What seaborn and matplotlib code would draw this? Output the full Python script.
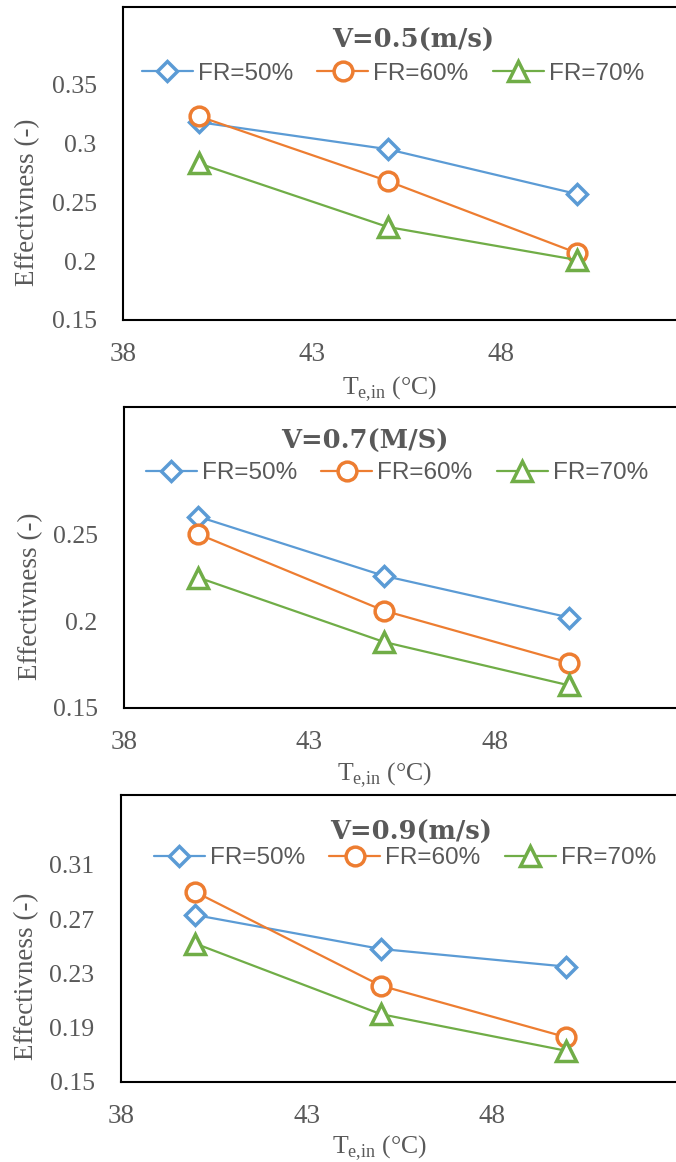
import matplotlib
matplotlib.use("Agg")
import matplotlib.pyplot as plt
import seaborn as sns
import pandas as pd
from matplotlib.font_manager import FontProperties

# ---------------- data ----------------
temps = [40, 45, 50]
fr_labels = ["FR=50%", "FR=60%", "FR=70%"]
titles = ["V=0.5(m/s)", "V=0.7(M/S)", "V=0.9(m/s)"]

eff_v05_fr50 = [0.318, 0.295, 0.257]
eff_v05_fr60 = [0.323, 0.268, 0.207]
eff_v05_fr70 = [0.283, 0.229, 0.201]

eff_v07_fr50 = [0.260, 0.226, 0.202]
eff_v07_fr60 = [0.250, 0.206, 0.176]
eff_v07_fr70 = [0.225, 0.188, 0.163]

eff_v09_fr50 = [0.273, 0.248, 0.235]
eff_v09_fr60 = [0.290, 0.221, 0.183]
eff_v09_fr70 = [0.252, 0.200, 0.173]

xticks = [38, 43, 48]
xtick_labels = ["38", "43", "48"]
yticks_v05 = [0.15, 0.2, 0.25, 0.3, 0.35]
ytick_labels_v05 = ["0.15", "0.2", "0.25", "0.3", "0.35"]
yticks_v07 = [0.15, 0.2, 0.25]
ytick_labels_v07 = ["0.15", "0.2", "0.25"]
yticks_v09 = [0.15, 0.19, 0.23, 0.27, 0.31]
ytick_labels_v09 = ["0.15", "0.19", "0.23", "0.27", "0.31"]

ylabel = "Effectivness (-)"
xlabel = r"T$_{\mathregular{e{,}in}}$ (°C)"

# ---------------- style ----------------
sns.set_style("white")
plt.rcParams["font.family"] = ["Liberation Serif", "DejaVu Serif"]

colors = ["#5B9BD5", "#ED7D31", "#70AD47"]
markers = ["D", "o", "^"]
msizes = [10.5, 13.5, 14.5]
text_gray = "#595959"

W, H = 676, 1162
fig = plt.figure(figsize=(W / 100, H / 100), dpi=100)


def fx(px):
    return px / W


def fy(py):
    return 1 - py / H


panels = [
    dict(series=[eff_v05_fr50, eff_v05_fr60, eff_v05_fr70], yt=yticks_v05, ytl=ytick_labels_v05,
         left=123, top=7, bottom=320, ppu=37.8, ymax=0.4157,
         title=(413, 40), leg=(393, 74), ylab=(28, 202), xlab=(390, 389)),
    dict(series=[eff_v07_fr50, eff_v07_fr60, eff_v07_fr70], yt=yticks_v07, ytl=ytick_labels_v07,
         left=124, top=407, bottom=708, ppu=37.1, ymax=0.323,
         title=(365, 441), leg=(397, 473), ylab=(31, 596), xlab=(385, 775)),
    dict(series=[eff_v09_fr50, eff_v09_fr60, eff_v09_fr70], yt=yticks_v09, ytl=ytick_labels_v09,
         left=121, top=795, bottom=1082, ppu=37.1, ymax=0.3614,
         title=(411, 832), leg=(405, 858), ylab=(27, 976), xlab=(380, 1148)),
]

ytick_font = FontProperties(family="Liberation Serif", size=18.5)
xtick_font = FontProperties(family="Liberation Serif", size=19.5)
leg_font = FontProperties(family="Liberation Sans", size=17.5)

for p, title in zip(panels, titles):
    ax = fig.add_axes([fx(p["left"]), fy(p["bottom"]),
                       15 * p["ppu"] / W, (p["bottom"] - p["top"]) / H])
    for vals, lab, c, m, ms in zip(p["series"], fr_labels, colors, markers, msizes):
        df = pd.DataFrame({"T": temps, "eff": vals})
        sns.lineplot(data=df, x="T", y="eff", ax=ax, color=c, marker=m,
                     markersize=ms, markerfacecolor="white", markeredgecolor=c,
                     markeredgewidth=2.5, linewidth=1.6, legend=False)
    ax.set_xlim(38, 53)
    ax.set_ylim(0.15, p["ymax"])
    ax.set_xticks(xticks)
    ax.set_xticklabels(xtick_labels)
    ax.set_yticks(p["yt"])
    ax.set_yticklabels(p["ytl"])
    for lbl in ax.get_xticklabels():
        lbl.set_fontproperties(xtick_font)
        lbl.set_color(text_gray)
    for lbl in ax.get_yticklabels():
        lbl.set_fontproperties(ytick_font)
        lbl.set_color(text_gray)
    ax.tick_params(axis="x", length=0, pad=16)
    ax.tick_params(axis="y", length=0, pad=19)
    for s in ax.spines.values():
        s.set_color("black")
        s.set_linewidth(1.5)

    ax.set_ylabel(ylabel, fontsize=19.5, color=text_gray, va="center", ha="center")
    ax.yaxis.set_label_coords(fx(p["ylab"][0]), fy(p["ylab"][1]), transform=fig.transFigure)
    ax.set_xlabel(xlabel, fontsize=18.5, color=text_gray, va="center", ha="center")
    ax.xaxis.set_label_coords(fx(p["xlab"][0]), fy(p["xlab"][1]), transform=fig.transFigure)

    fig.text(fx(p["title"][0]), fy(p["title"][1]), title, ha="center", va="center",
             fontsize=18.5, fontweight="bold", color=text_gray, family="DejaVu Serif")

    handles = ax.lines[:3]
    ax.legend(handles, fr_labels, loc="center", bbox_to_anchor=(fx(p["leg"][0]), fy(p["leg"][1])),
              bbox_transform=fig.transFigure, ncol=3, frameon=False, prop=leg_font,
              labelcolor=text_gray, handlelength=2.1, handletextpad=0.2,
              columnspacing=1.0, borderaxespad=0, borderpad=0)

fig.savefig("out.png", dpi=100)
